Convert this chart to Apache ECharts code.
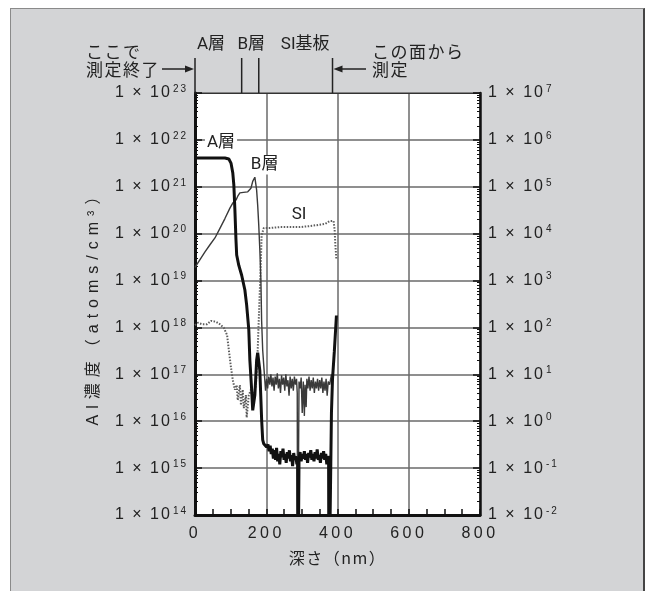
<!DOCTYPE html>
<html><head><meta charset="utf-8">
<script src="https://cdn.jsdelivr.net/npm/echarts@6/dist/echarts.min.js"></script>
<style>
html,body{margin:0;padding:0;background:#fff;}
#box{position:absolute;left:10px;top:8px;width:632px;height:600px;background:#d3d4d6;border-left:1.5px solid #8a8a8a;border-top:1.5px solid #8a8a8a;border-right:2px solid #444;}
#c{position:absolute;left:0;top:0;width:648px;height:591px;}
</style>
</head><body><div id="box"></div><div id="c"></div>
<script>
// ---- data ----
const xTicks = [0, 200, 400, 600, 800];
const leftExp = [14, 15, 16, 17, 18, 19, 20, 21, 22, 23];
const rightExp = [-2, -1, 0, 1, 2, 3, 4, 5, 6, 7];
const layerLabels = ['A層', 'B層', 'SI基板'];
const layerBounds = [0, 131, 179, 386];
const curveLabels = ['A層', 'B層', 'SI'];

// A層 (thick black), atoms/cm3, left axis
const seriesA = [
  [0,4.1e21],[40,4.1e21],[84,4.1e21],[95,3.9e21],[101,3.2e21],[106,2.0e21],[109,1.1e21],[112,3.2e20],
  [115,7.4e19],[117,3.5e19],[123,2.1e19],[131,1.3e19],[140,6.3e18],[145,3.0e18],[151,9.0e17],
  [154,2.0e17],[159,4.7e16],[162,1.7e16],[168,3.6e16],[173,2.0e17],[176,2.9e17],[182,1.2e17],
  [187,1.1e16],[190,4.0e15],[193,3.3e15],[197,3.4e15],[201,2.8e15],[205,3.2e15],[208,2.3e15],
  [211,3.0e15],[214,2.0e15],[217,2.6e15],[220,1.6e15],[223,2.4e15],[226,1.5e15],[229,2.7e15],
  [232,1.4e15],[235,2.0e15],[238,1.2e15],[241,2.3e15],[244,1.7e15],[247,2.6e15],[250,1.5e15],
  [253,2.0e15],[256,1.3e15],[259,2.2e15],[262,1.6e15],[265,2.4e15],[268,1.4e15],[271,1.9e15],
  [274,1.1e15],[277,2.1e15],[280,1.5e15],[283,1.8e15],[286,1.2e15],[288,1.7e15],[289,1e12],
  [291,1e12],[292,1.6e15],[295,2.2e15],[298,1.4e15],[301,2.0e15],[304,1.6e15],[307,2.3e15],
  [310,1.5e15],[313,2.0e15],[316,1.3e15],[319,2.1e15],[322,1.7e15],[325,2.4e15],[328,1.5e15],
  [331,2.0e15],[334,1.4e15],[337,2.2e15],[340,1.6e15],[343,2.5e15],[346,1.5e15],[349,1.9e15],
  [352,1.3e15],[355,2.1e15],[358,1.6e15],[361,2.3e15],[364,1.5e15],[367,2.0e15],[370,1.2e15],
  [373,1.8e15],[375,1.5e15],[376,1e12],[380,1e12],[383,1.5e16],[386,8.0e16],[391,3.0e17],[397,1.8e18]
];

// B層 (thin line), atoms/cm3, left axis
const seriesB = [
  [0,1.9e19],[14,2.8e19],[28,4.1e19],[42,5.8e19],[56,8.1e19],[70,1.3e20],[84,2.1e20],[98,3.5e20],
  [106,4.5e20],[115,5.2e20],[120,6.3e20],[126,7.4e20],[131,7.8e20],[136,7.6e20],[140,7.1e20],
  [148,7.8e20],[157,9.3e20],[162,1.3e21],[168,1.6e21],[171,1.55e21],[173,8.5e20],[176,4.0e20],
  [179,1.5e20],[182,4.5e19],[185,1.0e19],[187,1.4e18],[190,3.3e17],[194,1.2e17],[198,4.5e16],
  [201,8.0e16],[204,5.0e16],[207,9.0e16],[210,6.0e16],[213,1.0e17],[216,5.5e16],[219,8.5e16],
  [222,4.5e16],[225,9.0e16],[228,6.0e16],[231,1.05e17],[234,5.0e16],[237,8.0e16],[240,4.0e16],
  [243,9.5e16],[246,6.0e16],[249,8.5e16],[252,4.5e16],[255,1.0e17],[258,5.5e16],[261,7.5e16],
  [264,3.5e16],[267,9.0e16],[270,5.0e16],[273,8.0e16],[276,4.5e16],[279,9.0e16],[282,6.0e16],
  [285,8.0e16],[287,4.0e16],[288,1e12],[290,1e12],[292,7.0e16],[295,5.0e16],[298,8.5e16],
  [301,1.5e16],[304,7.0e16],[307,1.3e16],[309,6.0e16],[312,2.0e16],[314,8.0e16],[317,5.0e16],
  [320,9.0e16],[323,4.5e16],[326,7.5e16],[329,5.0e16],[332,8.5e16],[335,4.0e16],[338,7.0e16],
  [341,5.0e16],[344,8.0e16],[347,4.5e16],[350,7.5e16],[353,5.0e16],[356,8.5e16],[359,4.0e16],
  [362,7.0e16],[365,4.5e16],[368,8.0e16],[371,3.5e16],[374,7.0e16],[378,6.0e16],[383,1.0e17]
];

// SI (dotted), counts, right axis
const seriesSI = [
  [0,112],[8,126],[20,117],[34,117],[45,138],[50,151],[59,132],[70,117],[81,98],[90,69],[95,33],
  [101,14],[106,7.6],[112,4.7],[117,5.9],[120,2.8],[126,5.9],[129,2.2],[134,4.7],[137,1.9],
  [143,3.6],[145,1.2],[151,3.6],[157,4.7],[165,3.6],[171,5.9],[176,33],[179,145],[182,630],
  [185,2750],[187,9300],[193,13200],[210,13200],[238,13800],[266,13800],[294,13800],[322,14500],
  [350,15500],[366,16200],[378,18600],[383,20400],[389,18600],[392,12000],[394,5750],[397,2750]
];

// letter spacing of the original typesetting, keyed by the leading font family name
const LS = { 'Arial': '3.5px', '"Liberation Sans"': '2px', 'Helvetica': '6px', '"Noto Sans CJK JP"': '1.5px' };
(function () {
  const P = CanvasRenderingContext2D.prototype;
  const d = Object.getOwnPropertyDescriptor(P, 'font');
  if (!d || !('letterSpacing' in P)) return;
  Object.defineProperty(P, 'font', {
    configurable: true, enumerable: d.enumerable,
    get: function () { return d.get.call(this); },
    set: function (v) {
      d.set.call(this, v);
      let s = '0px';
      for (const k in LS) { if (v.indexOf('px ' + k) >= 0) { s = LS[k]; break; } }
      this.letterSpacing = s;
    }
  });
})();

const F_X = 'Arial, "Liberation Sans", sans-serif';
const F_Y = '"Liberation Sans", Arial, sans-serif';
const F_NAME = 'Helvetica, "Liberation Sans", "Noto Sans CJK JP", sans-serif';
const F_JP = '"Noto Sans CJK JP", "Liberation Sans", sans-serif';
const F_PLAIN = 'Roboto, "Liberation Sans", "Noto Sans CJK JP", sans-serif';
const TXT = '#222';

function expLabel(v) {
  const e = Math.round(Math.log10(v));
  return '{b|1 × 10}{s|' + e + '}';
}
const richLab = {
  b: { fontSize: 16, color: TXT, fontFamily: F_Y, lineHeight: 20 },
  s: { fontSize: 10, color: TXT, fontFamily: F_Y, verticalAlign: 'top', lineHeight: 12, padding: [0, 0, 0, 1] }
};

const chart = echarts.init(document.getElementById('c'), null, { renderer: 'canvas' });
const option = {
  animation: false,
  backgroundColor: 'transparent',
  grid: { left: 195, right: 168, top: 93, bottom: 76, show: true, backgroundColor: '#fff', borderWidth: 0 },
  xAxis: [{
    type: 'value', min: xTicks[0], max: xTicks[xTicks.length - 1], interval: 200,
    name: '深さ（nm）', nameLocation: 'middle', nameGap: 34,
    nameTextStyle: { fontSize: 16, color: TXT, fontFamily: F_JP },
    axisLine: { show: true, onZero: false, lineStyle: { color: '#111', width: 3 } },
    axisTick: { show: true, inside: true, length: 6, lineStyle: { color: '#111', width: 1.5 } },
    minorTick: { show: true, splitNumber: 4, length: 6, lineStyle: { color: '#111', width: 1.5 } },
    axisLabel: { fontSize: 16, color: TXT, fontFamily: F_X, margin: 9 },
    splitLine: { show: true, lineStyle: { color: '#6a6a6a', width: 1.5 } }
  }, {
    type: 'value', position: 'top', min: 0, max: 800,
    axisLine: { show: true, onZero: false, lineStyle: { color: '#333', width: 1 } },
    axisTick: { show: false }, axisLabel: { show: false }, splitLine: { show: false }
  }],
  yAxis: [{
    type: 'log', logBase: 10, min: Math.pow(10, leftExp[0]), max: Math.pow(10, leftExp[leftExp.length - 1]),
    name: 'Al濃度（atoms/cm³）', nameLocation: 'middle', nameGap: 90, nameRotate: 90,
    nameTextStyle: { fontSize: 16, color: TXT, fontFamily: F_NAME },
    axisLine: { show: true, onZero: false, lineStyle: { color: '#111', width: 3 } },
    axisTick: { show: true, inside: true, length: 7, lineStyle: { color: '#111', width: 1.5 } },
    minorTick: { show: true, splitNumber: 9, length: 3, lineStyle: { color: '#111', width: 1 } },
    axisLabel: { formatter: expLabel, rich: richLab, margin: 7 },
    splitLine: { show: true, lineStyle: { color: '#6a6a6a', width: 1.5 } }
  }, {
    type: 'log', logBase: 10, min: Math.pow(10, rightExp[0]), max: Math.pow(10, rightExp[rightExp.length - 1]),
    position: 'right',
    axisLine: { show: true, onZero: false, lineStyle: { color: '#111', width: 2.5 } },
    axisTick: { show: true, inside: true, length: 7, lineStyle: { color: '#111', width: 1.5 } },
    minorTick: { show: true, splitNumber: 9, length: 3, lineStyle: { color: '#111', width: 1 } },
    axisLabel: { formatter: expLabel, rich: richLab, margin: 8 },
    splitLine: { show: false }
  }],
  series: [
    { name: 'SI', type: 'line', yAxisIndex: 1, data: seriesSI, showSymbol: false, clip: true, z: 3,
      lineStyle: { color: '#5e5e5e', width: 2, type: [1.5, 1.5] } },
    { name: 'B層', type: 'line', data: seriesB, showSymbol: false, clip: true, z: 4,
      lineStyle: { color: '#3a3a3a', width: 1.4 } },
    { name: 'A層', type: 'line', data: seriesA, showSymbol: false, clip: true, z: 5,
      lineStyle: { color: '#111', width: 3 } }
  ]
};
chart.setOption(option);

// annotations
const px = (nm, v) => chart.convertToPixel({ xAxisIndex: 0, yAxisIndex: 0 }, [nm, v]);
const g = [];
const topY = 93, markTop = 58;
const xb = layerBounds.map(b => px(b, 1e20)[0]);
xb.forEach(x => {
  g.push({ type: 'line', shape: { x1: x, y1: markTop, x2: x, y2: topY }, style: { stroke: '#222', lineWidth: 1.5 }, z: 10 });
});
const tstyle = (t, x, y, extra) => Object.assign({ type: 'text', x: x, y: y, z: 20,
  style: Object.assign({ text: t, fill: TXT, font: '16px ' + F_PLAIN, textVerticalAlign: 'middle' }, extra || {}) });
g.push(tstyle(layerLabels[0], xb[0] + 2, 45, { font: '17px ' + F_PLAIN }));
g.push(tstyle(layerLabels[1], (xb[1] + xb[2]) / 2 + 1, 45, { textAlign: 'center', font: '17px ' + F_PLAIN }));
g.push(tstyle(layerLabels[2], xb[3] - 3, 45, { textAlign: 'right', font: '17px ' + F_PLAIN }));
g.push(tstyle('ここで', 86, 52, { font: '17px ' + F_JP }));
g.push(tstyle('測定終了', 86, 70, { font: '17px ' + F_JP }));
g.push(tstyle('この面から', 372, 52, { font: '17px ' + F_JP }));
g.push(tstyle('測定', 372, 70, { font: '17px ' + F_JP }));
// arrows
g.push({ type: 'line', shape: { x1: 162, y1: 69, x2: xb[0] - 6, y2: 69 }, style: { stroke: '#222', lineWidth: 1.5 }, z: 10 });
g.push({ type: 'polygon', shape: { points: [[xb[0] - 1, 69], [xb[0] - 10, 65.5], [xb[0] - 10, 72.5]] }, style: { fill: '#222' }, z: 10 });
g.push({ type: 'line', shape: { x1: 366, y1: 69, x2: xb[3] + 6, y2: 69 }, style: { stroke: '#222', lineWidth: 1.5 }, z: 10 });
g.push({ type: 'polygon', shape: { points: [[xb[3] + 1, 69], [xb[3] + 10, 65.5], [xb[3] + 10, 72.5]] }, style: { fill: '#222' }, z: 10 });
// in-plot curve labels
const labPos = [[28, 8.5e21], [151, 2.9e21], [266, 2.5e20]];
labPos.forEach((p, i) => {
  const q = px(p[0], p[1]);
  g.push(tstyle(curveLabels[i], q[0], q[1], { backgroundColor: '#fff', padding: [1, 2, 1, 2], font: '17px ' + F_PLAIN }));
});
chart.setOption({ graphic: g });
</script>
</body></html>
